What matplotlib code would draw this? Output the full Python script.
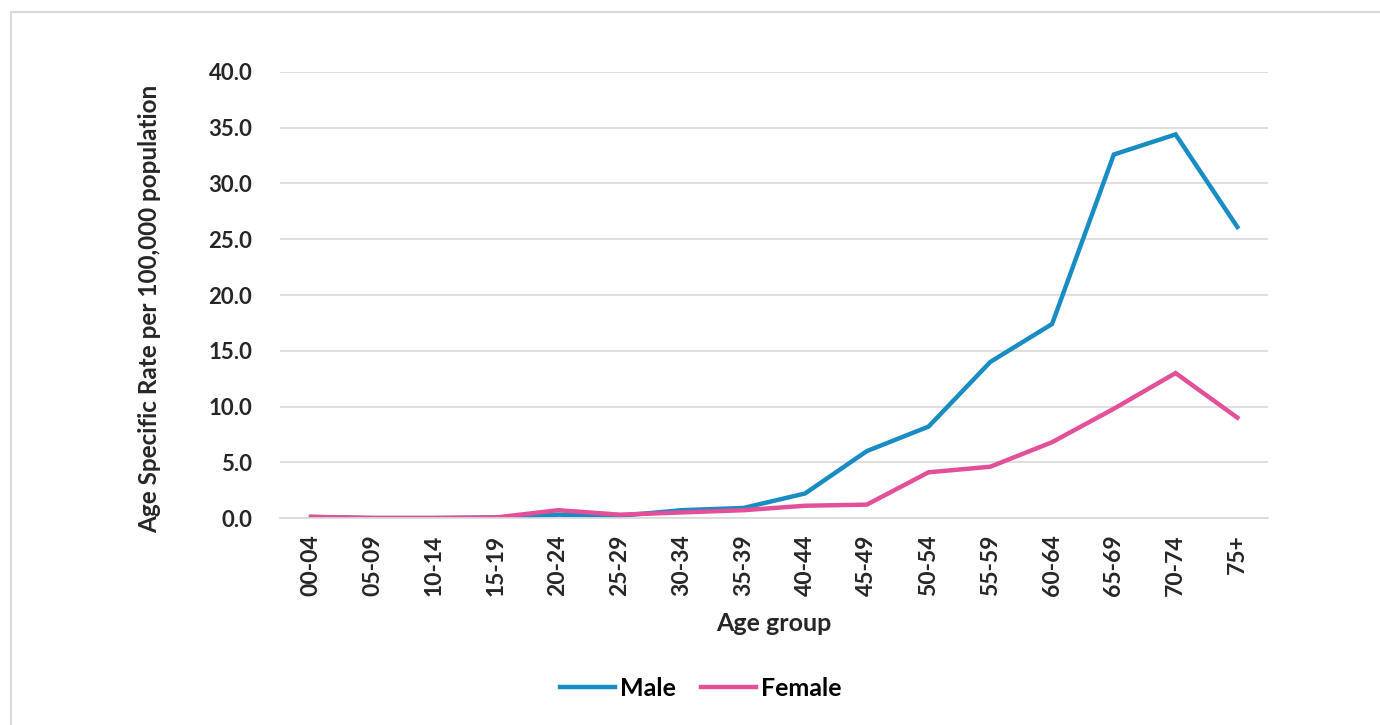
import matplotlib
matplotlib.use("Agg")
from matplotlib import pyplot as plt
from matplotlib.patches import Rectangle

# 年齢階級
age_groups = ["00-04", "05-09", "10-14", "15-19", "20-24", "25-29", "30-34", "35-39",
              "40-44", "45-49", "50-54", "55-59", "60-64", "65-69", "70-74", "75+"]
male = [0.1, 0.0, 0.0, 0.05, 0.3, 0.2, 0.7, 0.9, 2.2, 6.0, 8.2, 14.0, 17.4, 32.6, 34.4, 26.1]
female = [0.1, 0.0, 0.0, 0.05, 0.7, 0.3, 0.5, 0.7, 1.1, 1.2, 4.1, 4.6, 6.8, 9.8, 13.0, 9.0]
yticks = [0, 5, 10, 15, 20, 25, 30, 35, 40]

plt.rcParams['font.family'] = ['Lato', 'DejaVu Sans']
plt.rcParams['font.weight'] = 'bold'

fig = plt.figure(figsize=(13.8, 7.25), dpi=100)
ax = fig.add_axes([0.203, 0.2855, 0.716, 0.6152])

# 外枠
fig.patches.append(Rectangle((0.008, -0.01), 1.0, 0.994, transform=fig.transFigure,
                             fill=False, edgecolor="#d9d9d9", linewidth=1.5))

x = range(len(age_groups))
ax.plot(x, male, color="#1a8cc4", linewidth=3.2, label="Male", solid_joinstyle="miter")
ax.plot(x, female, color="#e2509a", linewidth=3.2, label="Female", solid_joinstyle="miter")

txt = "#262626"
ax.set_xlim(-0.5, len(age_groups) - 0.5)
ax.set_ylim(0, 40)
ax.set_yticks(yticks)
ax.set_yticklabels([f"{v:.1f}" for v in yticks], fontsize=16, fontweight="bold", color=txt)
ax.set_xticks(list(x))
ax.set_xticklabels(age_groups, rotation=90, fontsize=16.5, fontweight="bold", color=txt)
ax.tick_params(axis="x", length=0, pad=12)
ax.tick_params(axis="y", length=0, pad=20)

ax.grid(axis="y", color="#d9d9d9", linewidth=1.2)
ax.set_axisbelow(True)
for s in ["top", "right", "left"]:
    ax.spines[s].set_visible(False)
ax.spines["bottom"].set_color("#d9d9d9")
ax.spines["bottom"].set_linewidth(1.2)

ax.set_xlabel("Age group", fontsize=18, fontweight="bold", color=txt, labelpad=11)
ax.set_ylabel("Age Specific Rate per 100,000 population", fontsize=17.5, fontweight="bold",
              color=txt)
ax.yaxis.set_label_coords(-0.12, 0.47)

fig.legend(loc="center", bbox_to_anchor=(0.508, 0.051), ncol=2, frameon=False,
           fontsize=18, handlelength=2.2, handletextpad=0.2, columnspacing=1.0)

fig.savefig("out.png", dpi=100)
